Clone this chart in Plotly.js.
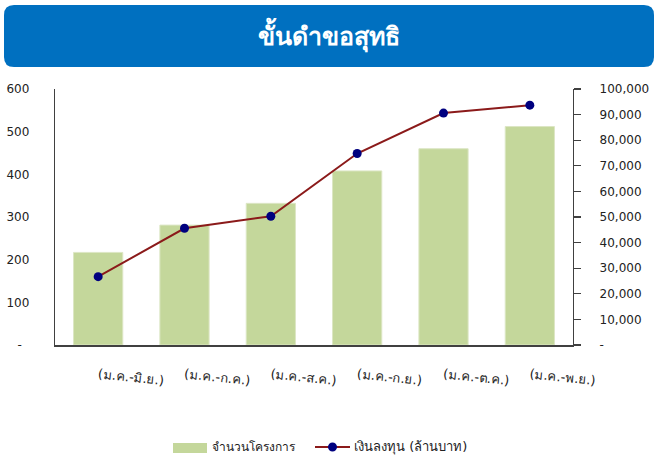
<!DOCTYPE html>
<html>
<head>
<meta charset="utf-8">
<script src="https://cdn.plot.ly/plotly-3.0.1.min.js"></script>
<style>html,body{margin:0;padding:0;background:#fff;}#chart{width:655px;height:459px;}</style>
</head>
<body>
<div id="chart"></div>
<script>
// ---- data ----
const categories = ['(ม.ค.-มิ.ย.)', '(ม.ค.-ก.ค.)', '(ม.ค.-ส.ค.)', '(ม.ค.-ก.ย.)', '(ม.ค.-ต.ค.)', '(ม.ค.-พ.ย.)'];
const projects = [217, 281, 332, 408, 460, 512];
const investment = [26700, 45600, 50300, 74800, 90600, 93700];
const leftTickVals = [0, 100, 200, 300, 400, 500, 600];
const leftTickText = ['-\u00a0\u00a0', '100', '200', '300', '400', '500', '600'];
const rightTickVals = [0, 10000, 20000, 30000, 40000, 50000, 60000, 70000, 80000, 90000, 100000];
const rightTickText = ['-', '10,000', '20,000', '30,000', '40,000', '50,000', '60,000', '70,000', '80,000', '90,000', '100,000'];
const titleText = 'ขั้นดำขอสุทธิ';
const seriesNames = ['จำนวนโครงการ', 'เงินลงทุน (ล้านบาท)'];

// ---- layout geometry ----
const W = 655, H = 459;
const M = {l: 55, r: 82, t: 89, b: 114};
const PW = W - M.l - M.r, PH = H - M.t - M.b;
const px = x => (x - M.l) / PW;
const py = y => (H - M.b - y) / PH;

const thaiFont = 'Tahoma, "DejaVu Sans", sans-serif';
const numFont = '"DejaVu Sans", Verdana, sans-serif';

function roundRect(x0, y0, x1, y1, r) {
  const X0 = px(x0), X1 = px(x1), Y0 = py(y0), Y1 = py(y1);
  const rx = r / PW, ry = r / PH;
  return `M${X0 + rx},${Y0} L${X1 - rx},${Y0} Q${X1},${Y0} ${X1},${Y0 - ry} L${X1},${Y1 + ry} Q${X1},${Y1} ${X1 - rx},${Y1} L${X0 + rx},${Y1} Q${X0},${Y1} ${X0},${Y1 + ry} L${X0},${Y0 - ry} Q${X0},${Y0} ${X0 + rx},${Y0} Z`;
}

const traces = [
  {
    type: 'bar', x: categories, y: projects, name: seriesNames[0],
    marker: {color: '#C4D79B', line: {color: '#DCE6C4', width: 1}},
    yaxis: 'y', showlegend: false, hoverinfo: 'x+y'
  },
  {
    type: 'scatter', mode: 'lines+markers', x: categories, y: investment, name: seriesNames[1],
    line: {color: '#8B1A1A', width: 2},
    marker: {color: '#00007F', size: 9},
    yaxis: 'y2', showlegend: false
  }
];

const layout = {
  width: W, height: H,
  margin: M,
  paper_bgcolor: '#ffffff', plot_bgcolor: '#ffffff',
  showlegend: false,
  bargap: 0.43,
  xaxis: {
    type: 'category', showline: true, linecolor: '#404040', linewidth: 1.5,
    ticks: '', tickangle: 6, ticklabelstandoff: 16,
    tickfont: {family: thaiFont, size: 13, color: '#222'},
    showgrid: false, zeroline: false, fixedrange: true
  },
  yaxis: {
    range: [0, 600], tickvals: leftTickVals, ticktext: leftTickText,
    showline: true, linecolor: '#404040', linewidth: 1.2, ticks: '',
    ticklabelstandoff: 22,
    tickfont: {family: numFont, size: 12, color: '#222'},
    showgrid: false, zeroline: false, fixedrange: true
  },
  yaxis2: {
    range: [0, 100000], tickvals: rightTickVals, ticktext: rightTickText,
    overlaying: 'y', side: 'right', anchor: 'x',
    showline: true, linecolor: '#404040', linewidth: 1.2,
    ticks: 'outside', ticklen: 7, tickcolor: '#404040', tickwidth: 1.2,
    ticklabelstandoff: 16,
    tickfont: {family: numFont, size: 12, color: '#222'},
    showgrid: false, zeroline: false, fixedrange: true
  },
  yaxis3: {
    range: [0, 100000], tickvals: rightTickVals,
    overlaying: 'y', side: 'right', anchor: 'x',
    showline: false, showticklabels: false,
    ticks: 'inside', ticklen: 7, tickcolor: '#404040', tickwidth: 1.2,
    showgrid: false, zeroline: false, fixedrange: true
  },
  shapes: [
    {type: 'path', xref: 'paper', yref: 'paper', path: roundRect(4, 5, 654, 67, 10),
     fillcolor: '#0070C0', line: {width: 0}, layer: 'below'},
    // legend symbols
    {type: 'rect', xref: 'paper', yref: 'paper', x0: px(173), x1: px(207), y0: py(453), y1: py(443),
     fillcolor: '#C4D79B', line: {width: 0}},
    {type: 'line', xref: 'paper', yref: 'paper', x0: px(315), x1: px(350), y0: py(447), y1: py(447),
     line: {color: '#8B1A1A', width: 2}},
    {type: 'circle', xref: 'paper', yref: 'paper', x0: px(328), x1: px(337), y0: py(451.5), y1: py(442.5),
     fillcolor: '#00007F', line: {width: 0}}
  ],
  annotations: [
    {xref: 'paper', yref: 'paper', x: px(329), y: py(35), text: '<b>' + titleText + '</b>', showarrow: false,
     xanchor: 'center', yanchor: 'middle', font: {family: thaiFont, size: 25, color: '#ffffff'}},
    {xref: 'paper', yref: 'paper', x: px(210), y: py(447), text: seriesNames[0], showarrow: false,
     xanchor: 'left', yanchor: 'middle', font: {family: thaiFont, size: 12, color: '#222'}},
    {xref: 'paper', yref: 'paper', x: px(352), y: py(447), text: seriesNames[1], showarrow: false,
     xanchor: 'left', yanchor: 'middle', font: {family: thaiFont, size: 13, color: '#222'}}
  ]
};

Plotly.newPlot('chart', traces, layout, {displayModeBar: false, staticPlot: true});
</script>
</body>
</html>
